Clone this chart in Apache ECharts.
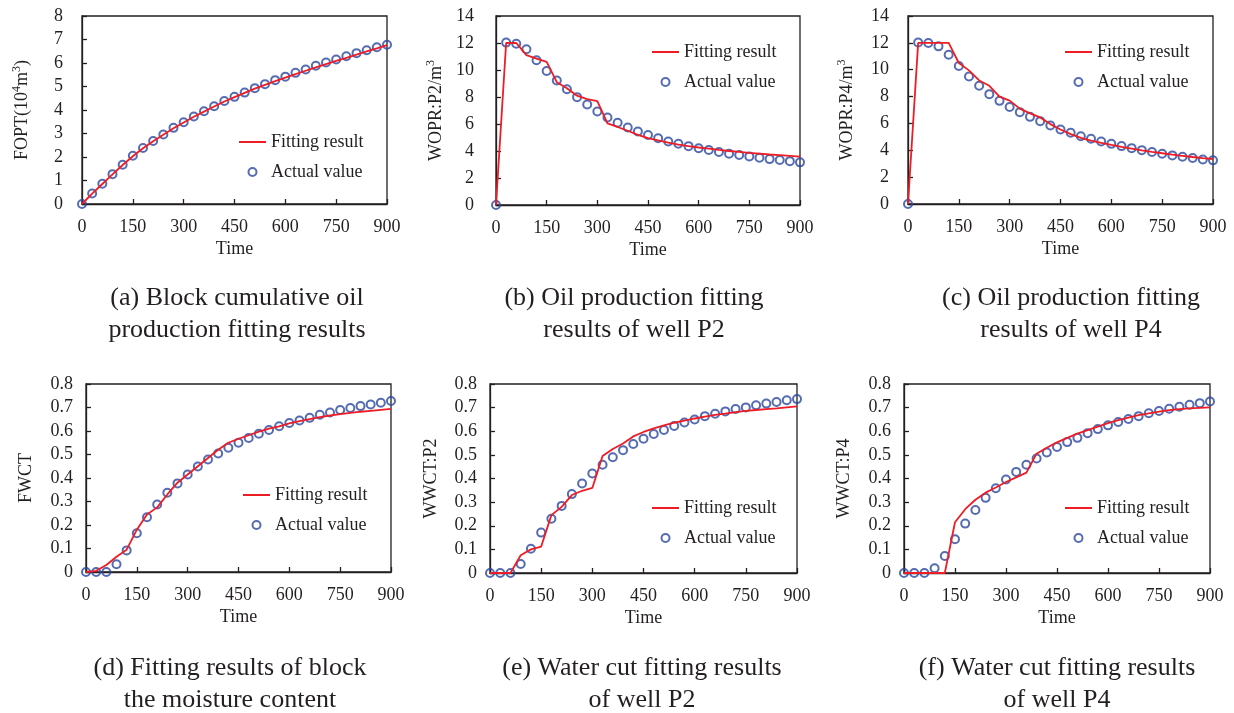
<!DOCTYPE html>
<html>
<head>
<meta charset="utf-8">
<title>History matching results</title>
<script src="https://cdn.jsdelivr.net/npm/echarts@6/dist/echarts.min.js"></script>
<style>
  html, body { margin: 0; padding: 0; background: #ffffff; }
  #chart { width: 1234px; height: 713px; }
</style>
</head>
<body>
<div id="chart"></div>
<script>
// Simulation time (days), sampled every 30 days
const days = [0, 30, 60, 90, 120, 150, 180, 210, 240, 270, 300, 330, 360, 390, 420, 450,
              480, 510, 540, 570, 600, 630, 660, 690, 720, 750, 780, 810, 840, 870, 900];
const timeTicks = [0, 150, 300, 450, 600, 750, 900];

// (a) block cumulative oil production, 10^4 m3
const foptActual = [0, 0.45, 0.86, 1.27, 1.67, 2.05, 2.38, 2.68, 2.96, 3.24, 3.48, 3.72, 3.95, 4.16, 4.38, 4.56,
                    4.74, 4.93, 5.10, 5.27, 5.42, 5.58, 5.72, 5.88, 6.02, 6.15, 6.29, 6.42, 6.54, 6.67, 6.78];
const foptFit = [0, 0.44, 0.85, 1.26, 1.66, 2.03, 2.37, 2.67, 2.95, 3.22, 3.47, 3.71, 3.93, 4.15, 4.36, 4.55,
                 4.73, 4.91, 5.07, 5.23, 5.38, 5.53, 5.67, 5.81, 5.95, 6.09, 6.22, 6.36, 6.49, 6.62, 6.76];

// (b) oil production rate of well P2, m3
const woprP2Actual = [0, 12.03, 11.95, 11.54, 10.72, 9.93, 9.22, 8.58, 7.99, 7.44, 6.93, 6.48, 6.09, 5.74, 5.45, 5.18,
                      4.95, 4.71, 4.54, 4.36, 4.21, 4.07, 3.92, 3.80, 3.70, 3.60, 3.50, 3.40, 3.33, 3.25, 3.16];
const woprP2Fit = [0, 12.0, 12.0, 11.1, 10.85, 10.6, 9.1, 8.65, 8.1, 7.85, 7.7, 6.05, 5.78, 5.5, 5.2, 4.95,
                   4.78, 4.62, 4.48, 4.36, 4.26, 4.17, 4.08, 4.0, 3.93, 3.86, 3.8, 3.74, 3.69, 3.64, 3.59];

// (c) oil production rate of well P4, m3
const woprP4Actual = [0, 12.02, 11.99, 11.74, 11.12, 10.28, 9.49, 8.80, 8.18, 7.68, 7.23, 6.84, 6.49, 6.17, 5.85, 5.55,
                      5.30, 5.05, 4.86, 4.66, 4.48, 4.31, 4.16, 4.01, 3.87, 3.74, 3.62, 3.52, 3.42, 3.32, 3.25];
const woprP4Fit = [0, 12.0, 12.0, 12.0, 12.0, 10.5, 9.95, 9.2, 8.8, 8.0, 7.7, 7.1, 6.75, 6.45, 5.95, 5.55,
                   5.2, 4.92, 4.72, 4.55, 4.4, 4.26, 4.13, 4.0, 3.88, 3.78, 3.68, 3.59, 3.5, 3.42, 3.35];

// (d) block water cut
const fwctActual = [0, 0, 0, 0.033, 0.092, 0.165, 0.233, 0.287, 0.337, 0.377, 0.415, 0.449, 0.479, 0.504, 0.529, 0.550,
                    0.570, 0.588, 0.604, 0.620, 0.634, 0.645, 0.656, 0.669, 0.679, 0.689, 0.698, 0.706, 0.713, 0.720, 0.728];
const fwctFit = [0, 0.005, 0.03, 0.065, 0.095, 0.18, 0.245, 0.275, 0.33, 0.38, 0.415, 0.45, 0.485, 0.52, 0.55, 0.567,
                 0.582, 0.597, 0.61, 0.62, 0.632, 0.642, 0.651, 0.659, 0.666, 0.672, 0.677, 0.682, 0.686, 0.69, 0.694];

// (e) water cut of well P2
const wwctP2Actual = [0, 0, 0, 0.038, 0.103, 0.171, 0.230, 0.284, 0.334, 0.379, 0.421, 0.458, 0.490, 0.520, 0.546, 0.568,
                      0.588, 0.605, 0.622, 0.637, 0.650, 0.664, 0.674, 0.684, 0.694, 0.701, 0.710, 0.717, 0.724, 0.731, 0.736];
const wwctP2Fit = [0, 0, 0, 0.075, 0.1, 0.112, 0.245, 0.28, 0.33, 0.348, 0.36, 0.495, 0.525, 0.548, 0.578, 0.597,
                   0.612, 0.625, 0.636, 0.645, 0.654, 0.662, 0.669, 0.675, 0.681, 0.686, 0.69, 0.694, 0.697, 0.701, 0.705];

// (f) water cut of well P4
const wwctP4Actual = [0, 0, 0, 0.02, 0.072, 0.143, 0.209, 0.267, 0.318, 0.359, 0.396, 0.428, 0.458, 0.485, 0.510, 0.533,
                      0.554, 0.572, 0.592, 0.609, 0.625, 0.639, 0.652, 0.664, 0.676, 0.686, 0.695, 0.704, 0.712, 0.719, 0.726];
const wwctP4Fit = [0, 0, 0, 0, 0, 0.215, 0.27, 0.31, 0.34, 0.362, 0.385, 0.405, 0.425, 0.505, 0.53, 0.553,
                   0.572, 0.59, 0.605, 0.62, 0.634, 0.647, 0.658, 0.668, 0.676, 0.683, 0.689, 0.694, 0.697, 0.699, 0.701];

// Axis titles and captions
const yNames = ['FOPT(10{sup|4}m{sup|3})', 'WOPR:P2/m{sup|3}', 'WOPR:P4/m{sup|3}', 'FWCT', 'WWCT:P2', 'WWCT:P4'];
const captions = [
  '(a) Block cumulative oil\nproduction fitting results',
  '(b) Oil production fitting\nresults of well P2',
  '(c) Oil production fitting\nresults of well P4',
  '(d) Fitting results of block\nthe moisture content',
  '(e) Water cut fitting results\nof well P2',
  '(f) Water cut fitting results\nof well P4'
];
const yRanges = [[0, 8, 1], [0, 14, 2], [0, 14, 2], [0, 0.8, 0.1], [0, 0.8, 0.1], [0, 0.8, 0.1]];
const fitSeries = [foptFit, woprP2Fit, woprP4Fit, fwctFit, wwctP2Fit, wwctP4Fit];
const actualSeries = [foptActual, woprP2Actual, woprP4Actual, fwctActual, wwctP2Actual, wwctP4Actual];

// Panel placement
const layout = [
  { grid: [82, 16, 305, 188],  yLabelMargin: 19, nameGap: 49, legend: [239, 133],  caption: [237, 282] },
  { grid: [496, 16, 304, 189], yLabelMargin: 22, nameGap: 49, legend: [652, 43],   caption: [634, 282] },
  { grid: [908, 16, 305, 188], yLabelMargin: 19, nameGap: 50, legend: [1065, 43],  caption: [1071, 282] },
  { grid: [86, 384, 305, 188], yLabelMargin: 13, nameGap: 49, legend: [243, 486],  caption: [230, 652] },
  { grid: [490, 384, 307, 189], yLabelMargin: 13, nameGap: 48, legend: [652, 499], caption: [642, 652] },
  { grid: [904, 384, 306, 189], yLabelMargin: 13, nameGap: 49, legend: [1065, 499], caption: [1057, 652] }
];

const INK = '#231f20';
const RED = '#ee1c25';
const BLUE = '#2a479f';
const FONT = 'Liberation Serif, Times New Roman, serif';

const pairs = (xs, ys) => xs.map((x, i) => [x, ys[i]]);

const option = {
  backgroundColor: '#ffffff',
  animation: false,
  title: [], grid: [], xAxis: [], yAxis: [], legend: [], series: []
};

layout.forEach((p, i) => {
  option.title.push({
    text: captions[i],
    left: p.caption[0], top: p.caption[1], padding: 0,
    textAlign: 'center',
    textStyle: { fontFamily: FONT, fontSize: 26, fontWeight: 'normal', lineHeight: 32, color: INK }
  });
  option.grid.push({
    left: p.grid[0], top: p.grid[1], width: p.grid[2], height: p.grid[3],
    show: true, borderColor: INK, borderWidth: 1.3, backgroundColor: 'transparent'
  });
  option.xAxis.push({
    type: 'value', gridIndex: i, min: timeTicks[0], max: timeTicks[timeTicks.length - 1],
    interval: timeTicks[1] - timeTicks[0],
    name: 'Time', nameLocation: 'middle', nameGap: 36,
    nameTextStyle: { fontFamily: FONT, fontSize: 18, color: INK },
    axisLine: { show: true, lineStyle: { color: INK, width: 1.3 } },
    axisTick: { show: true, inside: true, length: 5, lineStyle: { color: INK, width: 1.3 } },
    axisLabel: { fontFamily: FONT, fontSize: 18, color: INK, margin: 14 },
    splitLine: { show: false }
  });
  option.yAxis.push({
    type: 'value', gridIndex: i, min: yRanges[i][0], max: yRanges[i][1], interval: yRanges[i][2],
    name: yNames[i], nameLocation: 'middle', nameGap: p.nameGap,
    nameTextStyle: {
      fontFamily: FONT, fontSize: 18, color: INK, lineHeight: 22,
      rich: { sup: { fontFamily: FONT, fontSize: 12, lineHeight: 12, verticalAlign: 'top', color: INK } }
    },
    axisLine: { show: true, lineStyle: { color: INK, width: 1.3 } },
    axisTick: { show: true, inside: true, length: 5, lineStyle: { color: INK, width: 1.3 } },
    axisLabel: { fontFamily: FONT, fontSize: 18, color: INK, margin: p.yLabelMargin },
    splitLine: { show: false }
  });
  option.legend.push({
    orient: 'vertical', left: p.legend[0], top: p.legend[1], padding: 0,
    itemWidth: 27, itemHeight: 8, itemGap: 12, selectedMode: false,
    textStyle: { fontFamily: FONT, fontSize: 18, color: INK },
    data: [
      { name: 'Fitting result', icon: 'path://M0,0H30V2.2H0Z',
        itemStyle: { color: RED, borderWidth: 0 } },
      { name: 'Actual value', icon: 'circle',
        itemStyle: { color: 'transparent', borderColor: BLUE, borderWidth: 2 } }
    ]
  });
  option.series.push({
    name: 'Fitting result', type: 'line', xAxisIndex: i, yAxisIndex: i,
    data: pairs(days, fitSeries[i]), symbol: 'none', smooth: false,
    lineStyle: { color: RED, width: 1.8 }, itemStyle: { color: RED }, z: 3
  });
  option.series.push({
    name: 'Actual value', type: 'scatter', xAxisIndex: i, yAxisIndex: i,
    data: pairs(days, actualSeries[i]), symbol: 'circle', symbolSize: 8,
    itemStyle: { color: 'transparent', borderColor: BLUE, borderWidth: 2 }, z: 2
  });
});

const chart = echarts.init(document.getElementById('chart'), null, { renderer: 'canvas' });
chart.setOption(option);
</script>
</body>
</html>
